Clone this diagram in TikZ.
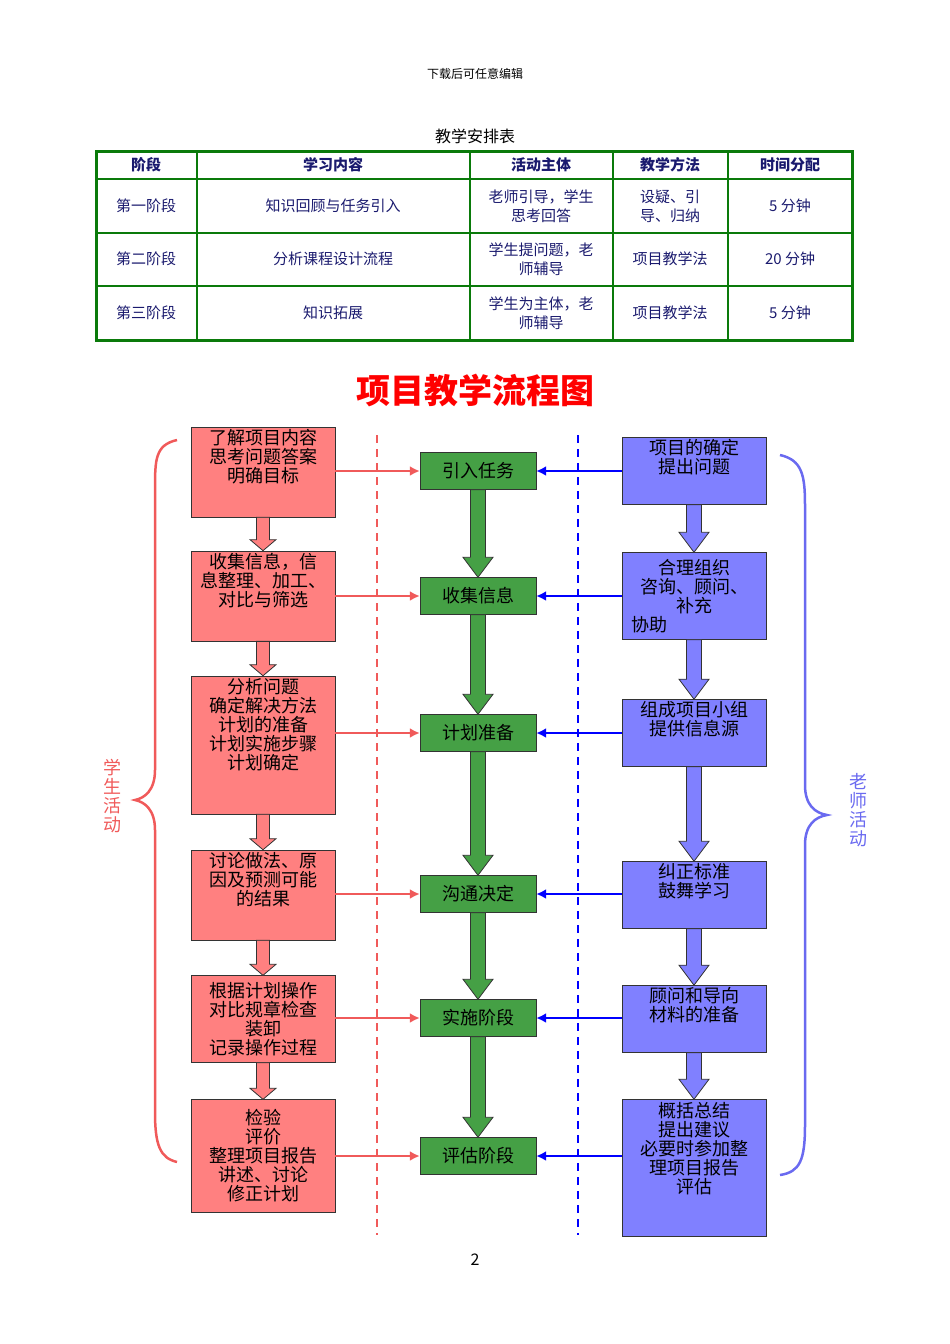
\documentclass[tikz,border=0pt]{standalone}
\usepackage{fontspec}
\setmainfont{Noto Sans CJK SC}
\usetikzlibrary{arrows.meta,calc,positioning}
\definecolor{navy}{HTML}{1A1A6E}
\definecolor{tabgreen}{HTML}{0A7A0A}
\definecolor{stu}{HTML}{FF8080}
\definecolor{stuline}{HTML}{F05A5A}
\definecolor{tea}{HTML}{8080FF}
\definecolor{tealine}{HTML}{6A6AF0}
\definecolor{mid}{HTML}{45A045}
\tikzset{
	cell/.style={text=navy, font=\fontsize{15}{19}\selectfont, align=center},
	head/.style={cell, font=\fontsize{15}{19}\selectfont\bfseries},
	sbox/.style={draw=black!80, fill=stu, minimum width=144, align=center,
			font=\fontsize{18}{19}\selectfont, inner sep=2pt},
	tbox/.style={draw=black!80, fill=tea, minimum width=144, align=center,
			font=\fontsize{18}{19}\selectfont, inner sep=2pt},
	gbox/.style={draw=black!80, fill=mid, minimum width=116, minimum height=37,
			font=\fontsize{18}{20}\selectfont},
	toleft/.style={draw=stuline, line width=2.5, -{Latex[length=10,width=10]}},
	toright/.style={draw=blue, line width=2.5, -{Latex[length=10,width=10]}},
}
% fat arrow from the bottom of one box to the top of the next
\newcommand\bigarrow[6]{%
	\path[draw=black!80, fill=#1, line width=0.8] let \p1=(#2.south), \p2=(#3.north) in
	(\x1-#4,\y1) -- (\x1-#4,\y2+#6) -- (\x1-#5,\y2+#6) -- (\x1,\y2)
	-- (\x1+#5,\y2+#6) -- (\x1+#4,\y2+#6) -- (\x1+#4,\y1) -- cycle;}
\begin{document}
\begin{tikzpicture}[x=1pt,y=-1pt]
	\useasboundingbox (0,0) rectangle (950,1344);

	\node[font=\fontsize{12}{14}\selectfont] (top) at (475,74) {下载后可任意编辑};
	\node[font=\fontsize{16}{18}\selectfont] (caption) at (475,136) {教学安排表};

	% table
	\draw[tabgreen, line width=3] (96,151) rectangle (852,340);
	\foreach \x in {197,470,613,728} \draw[tabgreen, line width=2.5] (\x,151) -- (\x,340);
	\foreach \y in {179,233,286} \draw[tabgreen, line width=2.5] (96,\y) -- (852,\y);

	\node[head] (h1) at (146,165) {阶段};
	\node[head] (h2) at (333,165) {学习内容};
	\node[head] (h3) at (541,165) {活动主体};
	\node[head] (h4) at (670,165) {教学方法};
	\node[head] (h5) at (790,165) {时间分配};

	\node[cell] (a1) at (146,206) {第一阶段};
	\node[cell] (a2) at (333,206) {知识回顾与任务引入};
	\node[cell] (a3) at (541,206) {老师引导，学生\\思考回答};
	\node[cell] (a4) at (670,206) {设疑、引\\导、归纳};
	\node[cell] (a5) at (790,206) {5 分钟};

	\node[cell] (b1) at (146,259) {第二阶段};
	\node[cell] (b2) at (333,259) {分析课程设计流程};
	\node[cell] (b3) at (541,259) {学生提问题，老\\师辅导};
	\node[cell] (b4) at (670,259) {项目教学法};
	\node[cell] (b5) at (790,259) {20 分钟};

	\node[cell] (c1) at (146,313) {第三阶段};
	\node[cell] (c2) at (333,313) {知识拓展};
	\node[cell] (c3) at (541,313) {学生为主体，老\\师辅导};
	\node[cell] (c4) at (670,313) {项目教学法};
	\node[cell] (c5) at (790,313) {5 分钟};

	% flow chart
	\node[text=red, font=\fontsize{34}{36}\selectfont\bfseries] (title) at (475,390) {项目教学流程图};

	\draw[stuline, line width=2, dash pattern=on 8 off 6] (377,435) -- (377,1235);
	\draw[blue, line width=2, dash pattern=on 8 off 6] (578,435) -- (578,1235);

	\node[sbox, minimum height=87] (s1) at (263,472) {了解项目内容\\思考问题答案\\明确目标\\[14pt]};
	\node[sbox, minimum height=87] (s2) at (263,596) {收集信息，信\\息整理、加工、\\对比与筛选\\[14pt]};
	\node[sbox, minimum height=137] (s3) at (263,745) {分析问题\\确定解决方法\\计划的准备\\计划实施步骤\\计划确定\\[24pt]};
	\node[sbox, minimum height=88] (s4) at (263,895) {讨论做法、原\\因及预测可能\\的结果\\[14pt]};
	\node[sbox, minimum height=87] (s5) at (263,1019) {根据计划操作\\对比规章检查\\装卸\\记录操作过程};
	\node[sbox, minimum height=113] (s6) at (263,1156) {检验\\评价\\整理项目报告\\讲述、讨论\\修正计划};

	\node[gbox] (g1) at (478,471) {引入任务};
	\node[gbox] (g2) at (478,596) {收集信息};
	\node[gbox] (g3) at (478,733) {计划准备};
	\node[gbox] (g4) at (478,894) {沟通决定};
	\node[gbox] (g5) at (478,1018) {实施阶段};
	\node[gbox] (g6) at (478,1156) {评估阶段};

	\node[tbox, minimum height=63] (t1) at (694,471) {项目的确定\\提出问题\\[10pt]};
	\node[tbox, minimum height=87] (t2) at (694,596) {合理组织\\咨询、顾问、\\补充\\\makebox[7em][l]{协助}};
	\node[tbox, minimum height=63] (t3) at (694,733) {组成项目小组\\提供信息源\\[10pt]};
	\node[tbox, minimum height=62] (t4) at (694,895) {纠正标准\\鼓舞学习\\[10pt]};
	\node[tbox, minimum height=62] (t5) at (694,1019) {顾问和导向\\材料的准备\\[10pt]};
	\node[tbox, minimum height=137] (t6) at (694,1168) {概括总结\\提出建议\\必要时参加整\\理项目报告\\评估\\[22pt]};

	\foreach \i/\j in {1/2,2/3,3/4,4/5,5/6} {
		\bigarrow{stu}{s\i}{s\j}{6.5}{13}{11}
		\bigarrow{mid}{g\i}{g\j}{7.5}{15}{20}
		\bigarrow{tea}{t\i}{t\j}{7.5}{15}{20}
	}
	\foreach \i in {1,...,6} {
		\draw[toleft] (g\i.west -| s\i.east) -- (g\i.west);
		\draw[toright] (g\i.east -| t\i.west) -- (g\i.east);
	}

	% braces
	\draw[stuline, line width=2.5] (177,440) .. controls (155,445) and (155,460) .. (155,490)
		-- (155,770) .. controls (155,790) and (145,798) .. (135,800)
		.. controls (145,802) and (155,810) .. (155,830)
		-- (155,1112) .. controls (155,1145) and (160,1158) .. (177,1162);
	\draw[tealine, line width=2.5] (780,455) .. controls (802,460) and (805,475) .. (805,505)
		-- (805,785) .. controls (805,805) and (815,813) .. (827,815)
		.. controls (815,817) and (805,825) .. (805,845)
		-- (805,1125) .. controls (805,1160) and (800,1172) .. (780,1175);
	\node[text=stuline, font=\fontsize{18}{19}\selectfont, align=center] (stu) at (112,796) {学\\生\\活\\动};
	\node[text=tealine, font=\fontsize{18}{19}\selectfont, align=center] (tea) at (858,810) {老\\师\\活\\动};

	\node[font=\fontsize{16}{18}\selectfont] (page) at (475,1260) {2};
\end{tikzpicture}
\end{document}
